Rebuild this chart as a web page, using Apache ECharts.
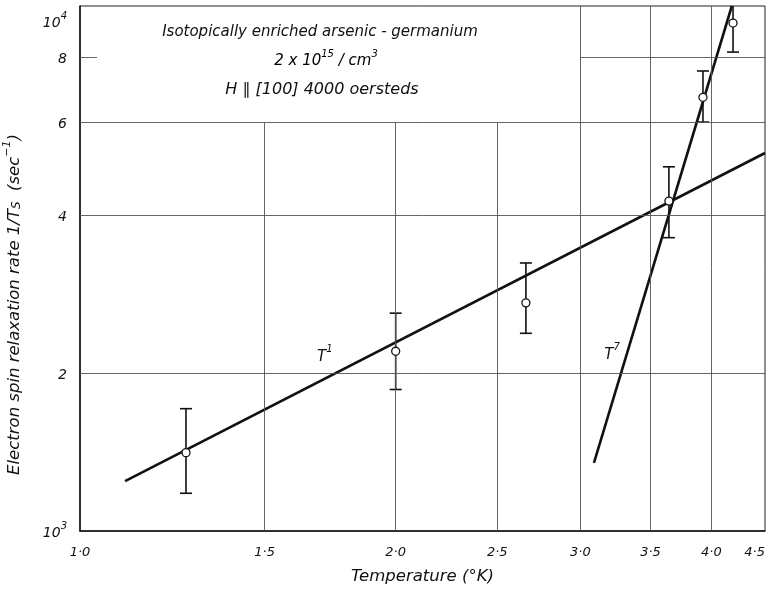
<!DOCTYPE html>
<html>
<head>
<meta charset="utf-8">
<script src="https://cdn.jsdelivr.net/npm/echarts@6/dist/echarts.min.js"></script>
<style>html,body{margin:0;padding:0;background:#fff}#c{width:769px;height:589px}</style>
</head>
<body>
<div id="c"></div>
<script>
// ---- data ----
const xTicks = [1.0, 1.5, 2.0, 2.5, 3.0, 3.5, 4.0, 4.5];
const yTicks = [1000, 2000, 4000, 6000, 8000, 10000];
const gridX = [1.5, 2.0, 2.5, 3.0, 3.5, 4.0];
const gridY = [2000, 4000, 6000, 8000];
const temps = [1.262, 2.0, 2.662, 3.644, 3.927, 4.195];
const rates = [1410, 2200, 2720, 4250, 6700, 9280];
const rateHigh = [1710, 2600, 3240, 4940, 7520, 10600];
const rateLow = [1180, 1860, 2380, 3620, 6010, 8170];
const fitT1Temps = [1.104, 4.5];
const fitT1Rates = [1245, 5248];
const fitT7Temps = [3.091, 4.184];
const fitT7Rates = [1348, 10000];
const fitT1Label = { sup: '1', temp: 1.712, rate: 2160 };
const fitT7Label = { sup: '7', temp: 3.216, rate: 2180 };

const X_MIN = 1.0, X_MAX = 4.5, Y_MIN = 1000, Y_MAX = 10000;
const FONT = 'DejaVu Sans';
const INK = '#111';
const GRID = '#555';

const chart = echarts.init(document.getElementById('c'), null, { renderer: 'canvas' });

const gridMarks = [];
gridX.forEach(v => {
  const top = v < 3.0 ? 6000 : Y_MAX;
  gridMarks.push([{ coord: [v, Y_MIN] }, { coord: [v, top] }]);
});
gridY.forEach(v => {
  if (v === 8000) {
    gridMarks.push([{ coord: [3.0, v] }, { coord: [X_MAX, v] }]);
    gridMarks.push([{ coord: [X_MIN, v] }, { coord: [1.038, v] }]);
  } else {
    gridMarks.push([{ coord: [X_MIN, v] }, { coord: [X_MAX, v] }]);
  }
});

function txt(size, extra) {
  return Object.assign({ fontFamily: FONT, fontStyle: 'italic', fontSize: size, color: INK, verticalAlign: 'bottom' }, extra || {});
}
const supRich = {
  b: txt(14, { lineHeight: 18 }),
  s: txt(10, { lineHeight: 12, padding: [0, 0, 9, 0] }),
  e: txt(10, { lineHeight: 30 })
};
const annRich = {
  b: txt(15, { lineHeight: 18 }),
  s: txt(10, { lineHeight: 12, padding: [0, 0, 10, 0] })
};

function fitLabelPoint(l) {
  return {
    coord: [l.temp, l.rate], symbol: 'circle', symbolSize: 0,
    label: {
      show: true, position: 'inside', color: INK, textBorderWidth: 0,
      formatter: '{b|T}{s|' + l.sup + '}', rich: annRich
    }
  };
}

const option = {
  animation: false,
  backgroundColor: '#fff',
  grid: { left: 80, right: 4, top: 6, bottom: 58, outerBoundsMode: 'none', containLabel: false,
    show: true, borderColor: '#222', borderWidth: 1, backgroundColor: 'transparent' },
  xAxis: {
    type: 'log', logBase: 10, min: X_MIN, max: X_MAX,
    name: 'Temperature (°K)', nameLocation: 'middle', nameGap: 37,
    nameTextStyle: { fontFamily: FONT, fontStyle: 'italic', fontSize: 16.5, color: INK },
    axisLine: { show: true, lineStyle: { color: '#111', width: 1.5 } },
    axisTick: { show: false },
    splitLine: { show: false },
    minorSplitLine: { show: false },
    axisLabel: {
      customValues: xTicks, margin: 15, alignMaxLabel: 'right',
      fontFamily: FONT, fontStyle: 'italic', fontSize: 13, color: INK,
      formatter: v => Number(v).toFixed(1).replace('.', '·')
    }
  },
  yAxis: {
    type: 'log', logBase: 10, min: Y_MIN, max: Y_MAX,
    name: '{b|Electron spin relaxation rate 1/T}{sub|S}{b|  (sec}{s|−1}{b|)}',
    nameLocation: 'middle', nameGap: 57, nameRotate: 90,
    nameTextStyle: {
      padding: [0, 72, 0, 0],
      rich: {
        b: txt(16.5, { lineHeight: 20 }),
        sub: txt(12, { lineHeight: 8 }),
        s: txt(11, { lineHeight: 12, padding: [0, 0, 10, 0] })
      }
    },
    axisLine: { show: true, lineStyle: { color: '#111', width: 1.5 } },
    axisTick: { show: false },
    splitLine: { show: false },
    minorSplitLine: { show: false },
    axisLabel: {
      customValues: yTicks, margin: 13,
      fontFamily: FONT, fontStyle: 'italic', fontSize: 14, color: INK,
      formatter: v => {
        const n = Math.round(Number(v));
        if (n === 1000) return '{b|10}{s|3}';
        if (n === 10000) return '{e|}\n{b|10}{s|4}';
        return '{b|' + (n / 1000) + '}';
      },
      rich: supRich
    }
  },
  graphic: [
    { type: 'text', x: 320, y: 32, style: { text: 'Isotopically enriched arsenic - germanium', fontFamily: FONT, fontStyle: 'italic', fontSize: 15, fill: INK, align: 'center', verticalAlign: 'middle' } },
    { type: 'text', x: 326, y: 60, style: { text: '{b|2 x 10}{s|15}{b| / cm}{s|3}', rich: annRich, align: 'center', verticalAlign: 'middle' } },
    { type: 'text', x: 322, y: 90, style: { text: 'H ∥ [100] 4000 oersteds', fontFamily: FONT, fontStyle: 'italic', fontSize: 16, fill: INK, align: 'center', verticalAlign: 'middle' } }
  ],
  series: [
    {
      type: 'line', name: 'grid', data: [], silent: true,
      markLine: { silent: true, symbol: ['none', 'none'], label: { show: false },
        lineStyle: { color: GRID, width: 0.9, type: 'solid' }, data: gridMarks }
    },
    {
      type: 'line', name: 'T^1 fit', z: 3, symbol: 'none',
      data: fitT1Temps.map((t, i) => [t, fitT1Rates[i]]),
      lineStyle: { color: INK, width: 2.6 },
      markPoint: { silent: true, data: [fitLabelPoint(fitT1Label)] }
    },
    {
      type: 'line', name: 'T^7 fit', z: 3, symbol: 'none',
      data: fitT7Temps.map((t, i) => [t, fitT7Rates[i]]),
      lineStyle: { color: INK, width: 2.6 },
      markPoint: { silent: true, data: [fitLabelPoint(fitT7Label)] }
    },
    {
      type: 'custom', name: 'error bars', z: 4,
      data: temps.map((t, i) => [t, rateLow[i], rateHigh[i]]),
      renderItem: (params, api) => {
        const x = api.value(0), lo = api.value(1), hi = api.value(2);
        const pLo = api.coord([x, Math.max(lo, Y_MIN)]);
        const pHi = api.coord([x, Math.min(hi, Y_MAX)]);
        const w = 6;
        const st = { stroke: INK, lineWidth: 1.6 };
        const children = [
          { type: 'line', shape: { x1: pLo[0], y1: pLo[1], x2: pHi[0], y2: pHi[1] }, style: st }
        ];
        if (lo >= Y_MIN) children.push({ type: 'line', shape: { x1: pLo[0] - w, y1: pLo[1], x2: pLo[0] + w, y2: pLo[1] }, style: st });
        if (hi <= Y_MAX) children.push({ type: 'line', shape: { x1: pHi[0] - w, y1: pHi[1], x2: pHi[0] + w, y2: pHi[1] }, style: st });
        return { type: 'group', children };
      }
    },
    {
      type: 'scatter', name: 'measured', z: 5,
      data: temps.map((t, i) => [t, rates[i]]),
      symbol: 'circle', symbolSize: 8,
      itemStyle: { color: '#fff', borderColor: INK, borderWidth: 1.3, opacity: 1 }
    }
  ]
};
chart.setOption(option);
</script>
</body>
</html>
